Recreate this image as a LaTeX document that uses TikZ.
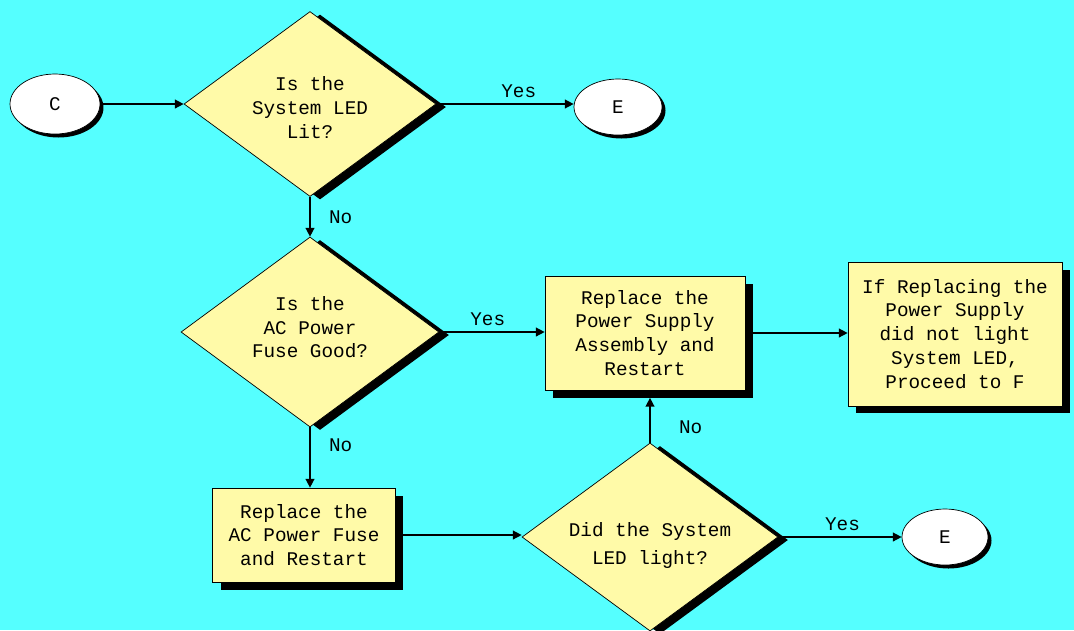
\documentclass[tikz,border=0pt]{standalone}
\usepackage{fontspec}
\usepackage{xcolor}
\usepackage{tikz}
\usetikzlibrary{arrows.meta,shapes.geometric,shadows}
\newfontfamily\flowfont{Liberation Mono}
\definecolor{bgcyan}{HTML}{55FFFF}
\definecolor{boxyellow}{HTML}{FFFAA8}

\begin{document}
\begin{tikzpicture}[
    x=0.02cm, y=-0.02cm,
    font=\flowfont\fontsize{11}{13.6}\selectfont,
    term/.style={draw, ellipse, fill=white, inner sep=0pt, drop shadow={shadow xshift=0.07cm, shadow yshift=-0.07cm, fill=black, opacity=1}},
    decide/.style={draw, diamond, aspect=1.4, inner sep=0pt, align=center, fill=boxyellow, drop shadow={shadow xshift=0.2cm, shadow yshift=-0.06cm, fill=black, opacity=1}},
    box/.style={draw, rectangle, inner sep=2pt, align=center, fill=boxyellow, drop shadow={shadow xshift=0.16cm, shadow yshift=-0.15cm, fill=black, opacity=1}},
    arr/.style={-{Triangle[length=5pt,width=5pt]}, thick},
]
    % Background
    \fill[bgcyan] (0,0) rectangle (1074,630);
    \useasboundingbox (0,0) rectangle (1074,630);

    % Top row
    \node[term, minimum width=1.8cm, minimum height=1.2cm] (c) at (55,104) {C};
    \node[decide, minimum width=5.04cm, minimum height=3.7cm] (led) at (310,104) {\mbox{}\\[-2pt]Is the\\System LED\\Lit?};
    \node[term, minimum width=1.76cm, minimum height=1.12cm] (e_top) at (618,107) {E};

    % Fuse check
    \node[decide, minimum width=5.16cm, minimum height=3.8cm] (fuse) at (310,332) {Is the\\AC Power\\Fuse Good?\\[-8pt]};
    \node[box, minimum width=4.0cm, minimum height=2.28cm] (psu) at (645,333) {Replace the\\Power Supply\\Assembly and\\Restart};
    \node[box, minimum width=4.28cm, minimum height=2.88cm] (go_f) at (955,334) {If Replacing the\\Power Supply\\did not light\\System LED,\\Proceed to F};

    % Bottom row
    \node[box, minimum width=3.66cm, minimum height=1.88cm] (fusefix) at (304,535) {Replace the\\AC Power Fuse\\and Restart};
    \node[decide, minimum width=5.12cm, minimum height=3.76cm] (lit) at (650,537) {\mbox{}\\[3.6pt]Did the System\\[2.4pt]LED light?};
    \node[term, minimum width=1.72cm, minimum height=1.12cm] (e_bot) at (945,537) {E};

    \draw[arr] (c) -- (led);
    \draw[arr] (led) -- node[pos=0.6, above] {Yes} (e_top.west |- led);
    \draw[arr] (led) -- node[right=0.25cm] {No} (fuse);
    \draw[arr] (fuse) -- node[pos=0.46, above] {Yes} (psu.west |- fuse);
    \draw[arr] (fuse) -- node[pos=0.3, right=0.25cm] {No} (fuse |- fusefix.north);
    \draw[arr] (psu) -- (go_f.west |- psu);
    \draw[arr] (fusefix) -- (lit.west |- fusefix);
    \draw[arr] (lit) -- node[pos=0.35, right=0.45cm] {No} ([yshift=-0.15cm]lit |- psu.south);
    \draw[arr] (lit) -- node[pos=0.52, above] {Yes} (e_bot);
\end{tikzpicture}
\end{document}
